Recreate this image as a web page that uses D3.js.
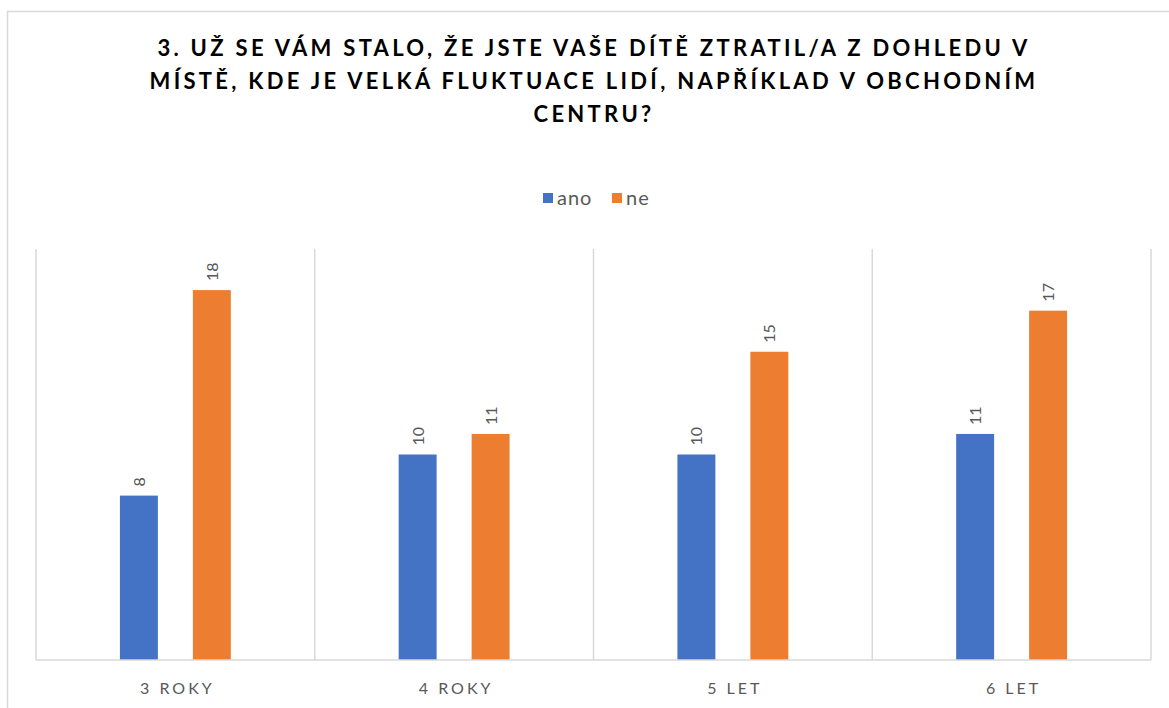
<!DOCTYPE html>
<html>
<head>
<meta charset="utf-8">
<script src="https://cdn.jsdelivr.net/npm/d3@7"></script>
<style>
  body { margin: 0; background: #fff; }
  text { font-family: Lato, "Open Sans", sans-serif; }
</style>
</head>
<body>
<div id="chart"></div>
<script>
// data
var titleLines = [
    "3. UŽ SE VÁM STALO, ŽE JSTE VAŠE DÍTĚ ZTRATIL/A Z DOHLEDU V",
    "MÍSTĚ, KDE JE VELKÁ FLUKTUACE LIDÍ, NAPŘÍKLAD V OBCHODNÍM",
    "CENTRU?"
];
var categories = ["3 ROKY", "4 ROKY", "5 LET", "6 LET"];
var seriesNames = ["ano", "ne"];
var anoValues = [8, 10, 10, 11];
var neValues = [18, 11, 15, 17];
var colors = ["#4472C4", "#ED7D31"];

var W = 1169, H = 708;
var plot = { left: 36, right: 1151, top: 249, bottom: 660 };

var svg = d3.select("#chart").append("svg")
    .attr("width", W)
    .attr("height", H);

// outer chart frame
svg.append("rect")
    .attr("x", 7.5).attr("y", 11.5)
    .attr("width", W + 10).attr("height", H + 10)
    .attr("fill", "#fff")
    .attr("stroke", "#d9d9d9")
    .attr("stroke-width", 1.5);

// title
svg.selectAll(".title")
    .data(titleLines)
    .enter()
    .append("text")
    .attr("class", "title")
    .attr("x", 594)
    .attr("y", function (d, i) { return 56 + i * 33; })
    .attr("text-anchor", "middle")
    .style("font-size", "22px")
    .style("font-weight", "bold")
    .style("letter-spacing", "3.3px")
    .style("fill", "#000")
    .text(function (d) { return d; });

// legend
var legendX = [543, 612];
seriesNames.forEach(function (s, i) {
    svg.append("rect")
        .attr("x", legendX[i]).attr("y", 193)
        .attr("width", 10).attr("height", 10)
        .attr("fill", colors[i]);
    svg.append("text")
        .attr("x", legendX[i] + 14).attr("y", 205)
        .style("font-size", "20px")
        .style("letter-spacing", "1px")
        .style("fill", "#595959")
        .text(s);
});

var x = d3.scaleBand()
    .domain(categories)
    .range([plot.left, plot.right])
    .paddingInner(0).paddingOuter(0);

var xInner = d3.scaleBand()
    .domain(seriesNames)
    .range([0, x.bandwidth()])
    .paddingInner(0.48)
    .paddingOuter(1.15);

var y = d3.scaleLinear()
    .domain([0, 20])
    .range([plot.bottom, plot.top]);

// vertical gridlines between categories
var bounds = categories.map(function (c) { return x(c); }).concat([plot.right]);
svg.selectAll(".grid")
    .data(bounds)
    .enter()
    .append("line")
    .attr("x1", function (d) { return d; })
    .attr("x2", function (d) { return d; })
    .attr("y1", plot.top)
    .attr("y2", plot.bottom)
    .attr("stroke", "#d9d9d9")
    .attr("stroke-width", 1.5);

// bars
var rows = [];
categories.forEach(function (c, i) {
    rows.push({ cat: c, s: 0, v: anoValues[i] });
    rows.push({ cat: c, s: 1, v: neValues[i] });
});

svg.selectAll(".bar")
    .data(rows)
    .enter()
    .append("rect")
    .attr("class", "bar")
    .attr("x", function (d) { return x(d.cat) + xInner(seriesNames[d.s]); })
    .attr("y", function (d) { return y(d.v); })
    .attr("width", xInner.bandwidth())
    .attr("height", function (d) { return y(0) - y(d.v); })
    .attr("fill", function (d) { return colors[d.s]; });

// value labels, rotated
svg.selectAll(".val")
    .data(rows)
    .enter()
    .append("text")
    .attr("class", "val")
    .attr("transform", function (d) {
        var cx = x(d.cat) + xInner(seriesNames[d.s]) + xInner.bandwidth() / 2;
        return "translate(" + (cx + 6) + "," + (y(d.v) - 9) + ") rotate(-90)";
    })
    .style("font-size", "16px")
    .style("fill", "#595959")
    .text(function (d) { return d.v; });

// baseline
svg.append("line")
    .attr("x1", plot.left).attr("x2", plot.right)
    .attr("y1", plot.bottom).attr("y2", plot.bottom)
    .attr("stroke", "#d9d9d9")
    .attr("stroke-width", 1.5);

// category labels
svg.selectAll(".cat")
    .data(categories)
    .enter()
    .append("text")
    .attr("class", "cat")
    .attr("x", function (d) { return x(d) + x.bandwidth() / 2 + 2; })
    .attr("y", 694)
    .attr("text-anchor", "middle")
    .style("font-size", "16px")
    .style("letter-spacing", "3px")
    .style("fill", "#595959")
    .text(function (d) { return d; });
</script>
</body>
</html>
